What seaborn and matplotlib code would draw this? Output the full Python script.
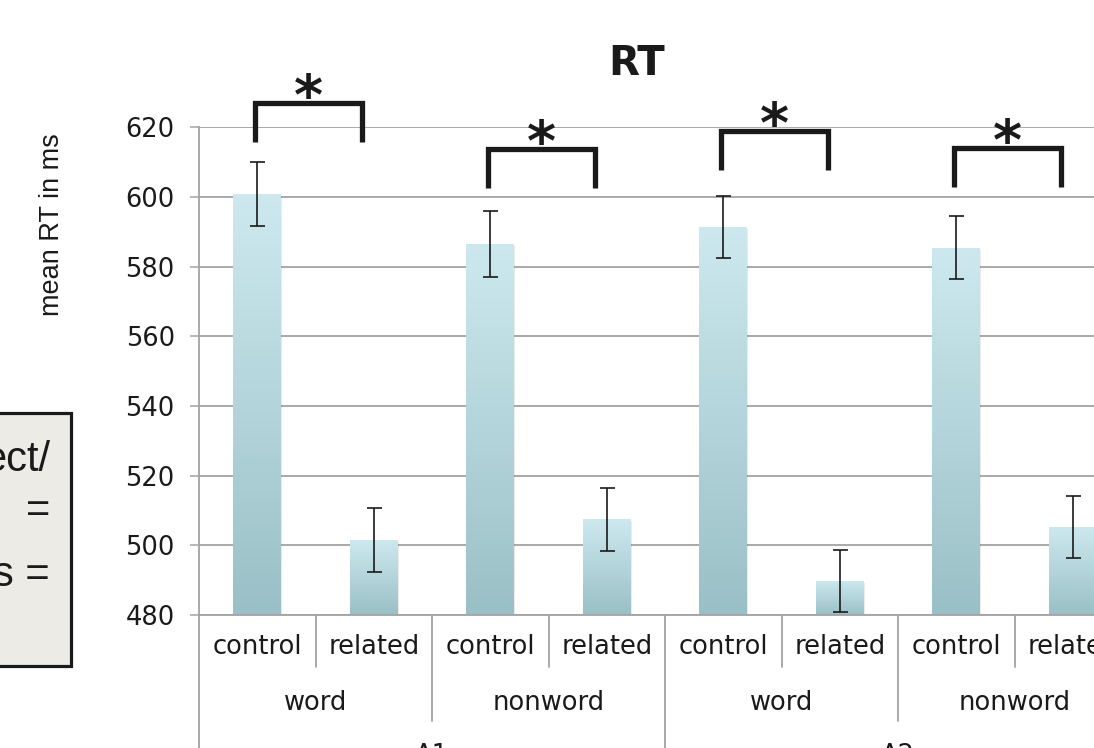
import numpy as np
import pandas as pd
import matplotlib
matplotlib.use('Agg')
import matplotlib.pyplot as plt
import seaborn as sns
from matplotlib.colors import LinearSegmentedColormap
from matplotlib.patches import Rectangle

# valores
blocks = ['A1', 'A1', 'A1', 'A1', 'A2', 'A2', 'A2', 'A2']
lexicality = ['word', 'word', 'nonword', 'nonword', 'word', 'word', 'nonword', 'nonword']
conditions = ['control', 'related', 'control', 'related', 'control', 'related', 'control', 'related']
mean_rt = [600.8, 501.6, 586.6, 507.5, 591.4, 489.8, 585.4, 505.3]
rt_err = [9.2, 9.2, 9.5, 9.1, 8.9, 9.0, 9.0, 8.9]

# colchetes de significância: (barra esquerda, barra direita), altura, rótulo
sig_pairs = [(0, 1), (2, 3), (4, 5), (6, 7)]
sig_heights = [627.0, 613.8, 618.9, 614.1]
sig_labels = ['*', '*', '*', '*']

group_labels = ['word', 'nonword', 'word', 'nonword']
block_labels = ['A1', 'A2']
box_lines = ['ect/', '=', 's =']

df = pd.DataFrame({'block': blocks, 'lex': lexicality, 'cond': conditions, 'rt': mean_rt})
df['key'] = df['block'] + '_' + df['lex'] + '_' + df['cond']

sns.set_style('whitegrid', {'grid.color': '#a3a3a3', 'axes.edgecolor': '#a3a3a3'})
plt.rcParams['font.family'] = ['DejaVu Sans']

fig = plt.figure(figsize=(10.94, 7.48), dpi=100)
ax = fig.add_axes([0.1819, 0.1778, 0.852, 0.652])

sns.barplot(data=df, x='key', y='rt', order=list(df['key']), color='#b5d7dd',
            width=0.41, errorbar=None, ax=ax)

ymin, ymax = 480, 620
ax.set_ylim(ymin, ymax)
ax.set_xlim(-0.5, 7.5)

# gradiente dentro de cada barra
cmap = LinearSegmentedColormap.from_list('barra', ['#99c0c6', '#cde9ef'])
grad = np.linspace(0, 1, 512).reshape(-1, 1)
bars = list(ax.patches)
centers = []
for p in bars:
    x0, w, h = p.get_x(), p.get_width(), p.get_height()
    centers.append(x0 + w / 2)
    # sombra leve
    ax.add_patch(Rectangle((x0 + 0.01, ymin), w, h - ymin - 0.6, facecolor='#000000',
                           alpha=0.08, edgecolor='none', zorder=0.9))
    im = ax.imshow(grad, extent=[x0, x0 + w, ymin, h], origin='lower', cmap=cmap,
                   aspect='auto', zorder=1.1, interpolation='bilinear')
    im.set_clip_path(p)
    p.set_facecolor('none')
    p.set_edgecolor('none')
ax.set_xlim(-0.5, 7.5)
ax.set_ylim(ymin, ymax)

ax.errorbar(centers, mean_rt, yerr=rt_err, fmt='none', ecolor='#1a1a1a',
            elinewidth=1.2, capsize=5.4, capthick=1.2, zorder=3)

# colchetes e asteriscos
for (a, b), h, lab in zip(sig_pairs, sig_heights, sig_labels):
    xl = centers[a] - 0.02
    xr = centers[b] - 0.1
    ax.plot([xl, xl, xr, xr], [h - 11.2, h, h, h - 11.2], color='#1a1a1a', lw=3.8,
            solid_joinstyle='miter', solid_capstyle='butt', clip_on=False, zorder=4)
    ax.text((xl + xr) / 2, h - 3.2, lab, fontsize=40, fontweight='bold',
            ha='center', va='baseline', color='#1a1a1a', clip_on=False)

ax.set_yticks(np.arange(480, 621, 20))
ax.set_xticks(range(len(conditions)))
ax.set_xticklabels(conditions)
ax.set_xlabel('')
ax.set_ylabel('')
ax.xaxis.grid(False)
ax.yaxis.grid(True, linewidth=1.3)
ax.set_axisbelow(True)
ax.tick_params(axis='y', direction='out', length=6.5, width=1.1, color='#a3a3a3',
               pad=11, labelsize=18.5, labelcolor='#1a1a1a', left=True)
ax.tick_params(axis='x', length=0, pad=14, labelsize=18.5, labelcolor='#1a1a1a')
for s in ['top', 'right']:
    ax.spines[s].set_visible(False)
for s in ['left', 'bottom']:
    ax.spines[s].set_color('#a3a3a3')
    ax.spines[s].set_linewidth(1.3)

# eixo x em vários níveis
tr = ax.get_xaxis_transform()
sep_depth = {0: -0.107, 1: -0.218, 2: -0.40}
for i in range(len(conditions) + 1):
    xb = i - 0.5
    if i % 4 == 0:
        d = sep_depth[2]
    elif i % 2 == 0:
        d = sep_depth[1]
    else:
        d = sep_depth[0]
    ax.plot([xb, xb], [0, d], transform=tr, color='#a3a3a3', lw=1.3, clip_on=False)

for g, lab in enumerate(group_labels):
    ax.text(2 * g + 0.5, -0.18, lab, transform=tr, ha='center', va='center',
            fontsize=18.5, color='#1a1a1a')
for g, lab in enumerate(block_labels):
    ax.text(4 * g + 1.5, -0.262, lab, transform=tr, ha='center', va='top',
            fontsize=18.5, color='#1a1a1a')

fig.text(637 / 1094, 1 - 64 / 748, 'RT', fontsize=29, fontweight='bold',
         ha='center', va='center', color='#1a1a1a')

narrow = ['Liberation Sans Narrow', 'Liberation Sans']
fig.text(52 / 1094, 1 - 225 / 748, 'mean RT in ms', rotation=90, ha='center',
         va='center', fontsize=19.5, family=narrow, color='#1a1a1a')

# caixa de texto cortada à esquerda
fig.add_artist(Rectangle((-0.05, 1 - 666 / 748), 0.05 + 71 / 1094, 253 / 748,
                         transform=fig.transFigure, facecolor='#ecebe6',
                         edgecolor='#1a1a1a', linewidth=2.3))
box_y = [471, 522, 586]
for t, yy in zip(box_lines, box_y):
    fig.text(50 / 1094, 1 - yy / 748, t, ha='right', va='baseline', fontsize=30,
             family=narrow, color='#1a1a1a')

fig.savefig('out.png', dpi=100)
plt.close(fig)
